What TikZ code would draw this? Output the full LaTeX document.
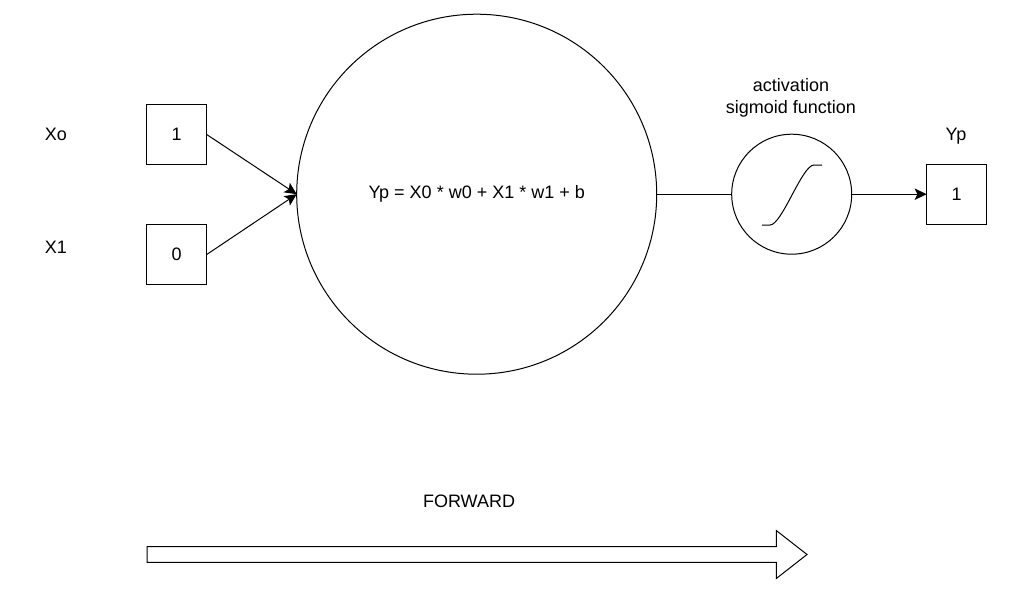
\documentclass[tikz,border=0pt]{standalone}
\usepackage{fontspec}
\setmainfont{Liberation Sans}
\usepackage{tikz}
\usetikzlibrary{shapes.arrows, arrows.meta, positioning}
\tikzset{
  valbox/.style={rectangle, draw=black, fill=white, minimum size=45pt, inner sep=0pt, outer sep=0pt, line width=0.75pt},
  neuron/.style={circle, draw=black, fill=white, minimum size=270pt, inner sep=0pt, outer sep=0pt, line width=0.75pt},
  activ/.style={circle, draw=black, fill=white, minimum size=90pt, inner sep=0pt, outer sep=0pt, line width=0.75pt},
  lbl/.style={align=center, inner sep=0pt},
  fwdarrow/.style={single arrow, draw=black, fill=white, minimum height=495pt, minimum width=35pt,
    single arrow head extend=12pt, single arrow tip angle=76, single arrow head indent=0pt,
    inner xsep=0pt, inner ysep=5.6pt, outer sep=0pt, line width=0.75pt},
  arrow/.style={-{Stealth[length=9pt, width=8.5pt, inset=2pt]}, line width=0.75pt, color=black},
  line/.style={line width=0.75pt, color=black}
}
\begin{document}
\begin{tikzpicture}[x=0.75pt, y=-0.75pt, every node/.style={font=\fontsize{13.5pt}{16.5pt}\selectfont}]
  \useasboundingbox (0,0) rectangle (1010,590);

  % Central neuron
  \node[neuron] (sum) at (476.7,194.2) {\raisebox{-1.2pt}{Yp = X0 * w0 + X1 * w1 + b}};

  % Input boxes
  \node[valbox] (xzero) at (176.7,134.5) {1};
  \node[valbox, below=45pt of xzero] (xone) {0};
  \node[lbl] (xzerolbl) at (56,134) {Xo};
  \node[lbl] (xonelbl) at (56,247) {X1};

  % Activation and output
  \node[activ, right=56.25pt of sum] (sigm) {};
  \node[valbox, right=56.25pt of sigm] (out) {1};
  \node[lbl] (sigmlbl) at (791,98) {activation\\sigmoid function};
  \node[lbl] (outlbl) at (956,136) {Yp};

  % S curve
  \draw[line] (762,225) -- (770,225) .. controls (782,225) and (802,165) .. (814,165) -- (822,165);

  % Interconnections
  \draw[arrow] (xzero.east) -- (sum.west);
  \draw[arrow] (xone.east) -- (sum.west);
  \draw[line] (sum) -- (sigm);
  \draw[arrow] (sigm) -- (out);

  % Direction
  \node[lbl] (fwdlbl) at (469,501) {FORWARD};
  \node[fwdarrow, anchor=tail] (fwd) at (147,554.5) {};
\end{tikzpicture}
\end{document}
